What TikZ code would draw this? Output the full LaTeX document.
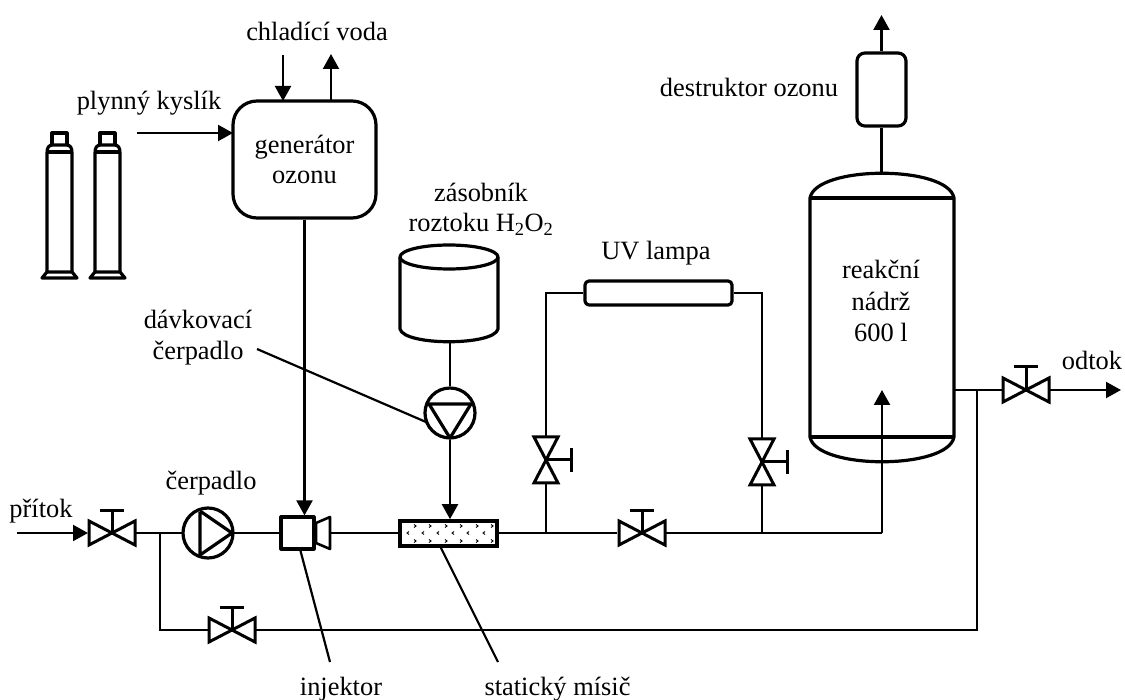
\documentclass[tikz,border=0pt]{standalone}
\usepackage{fontspec}
\setmainfont{Liberation Serif}
\usetikzlibrary{arrows.meta}
\tikzset{
  x=1pt,y=-1pt,
  pipe/.style={line width=2.2pt,black},
  thick outline/.style={line width=3.2pt,black,line join=round},
  arr/.style={pipe,-{Triangle[length=15pt,width=16pt]},shorten >=0pt},
  lbl/.style={font=\fontsize{26.4}{30}\selectfont,inner sep=0pt,align=center,text=black},
  cross/.style={line width=3pt,black,line join=miter,fill=white},
}
\newcommand{\hvalve}[2]{%
  \draw[cross] (#1-23,#2-12) -- (#1+23,#2+12) -- (#1+23,#2-12) -- (#1-23,#2+12) -- cycle;
  \draw[cross] (#1,#2) -- (#1,#2-23);
  \draw[cross] (#1-12,#2-23) -- (#1+12,#2-23);
}
\newcommand{\vvalve}[2]{%
  \draw[cross] (#1-12,#2-23) -- (#1+12,#2+23) -- (#1-12,#2+23) -- (#1+12,#2-23) -- cycle;
  \draw[cross] (#1,#2) -- (#1+25,#2);
  \draw[cross] (#1+25,#2-12) -- (#1+25,#2+12);
}
\newcommand{\bottle}[1]{%
  \draw[thick outline] (#1+5,145) -- (#1+5,133) -- (#1+20,133) -- (#1+20,145);
  \draw[thick outline] (#1,273) -- (#1,153) .. controls (#1,147) and (#1+2,145) .. (#1+6,145) -- (#1+19,145) .. controls (#1+23,145) and (#1+25,147) .. (#1+25,153) -- (#1+25,273);
  \draw[thick outline] (#1,152) -- (#1+25,152);
  \draw[thick outline] (#1,272) -- (#1+25,272) -- (#1+30,278) -- (#1-5,278) -- cycle;
}
\begin{document}
\begin{tikzpicture}
\useasboundingbox (0,0) rectangle (1125,700);
% bottles
\bottle{47}
\bottle{95}
% generator
\node[draw,thick outline,rounded corners=24pt,minimum width=143pt,minimum height=117pt,inner sep=0pt,lbl] (gen) at (304.5,159.5) {generátor\\ozonu};
\node[lbl] (lO) at (149,103) {plynný kyslík};
\node[lbl] (lC) at (317,31) {chladící voda};
\coordinate (oxin) at (137,133);
\coordinate (gw) at (233,133);
\draw[arr] (oxin) -- (gw);
\coordinate (cwi) at (283,55);
\coordinate (cwit) at (283,101);
\draw[arr] (cwi) -- (cwit);
\coordinate (cwo) at (331,101);
\coordinate (cwot) at (331,54);
\draw[arr] (cwo) -- (cwot);
% main line pieces
\coordinate (in) at (17,533);
\coordinate (v1l) at (88,533);
\draw[arr] (in) -- (v1l);
\draw[pipe] (136,533) -- (183,533);
\coordinate (j1) at (160,533);
\coordinate (j1b) at (160,630);
\coordinate (j2) at (977,630);
\coordinate (j3) at (977,390);
\draw[pipe,line join=miter] (j1) -- (j1b) -- (j2) -- (j3);
\draw[pipe] (233,533) -- (281,533);
\draw[pipe] (330,533) -- (400,533);
\draw[pipe] (497,533) -- (617,533);
\coordinate (tankin) at (882,390);
\draw[pipe] (666,533) -- (882,533);
\draw[arr] (882,533) -- (tankin);
\draw[pipe] (955,390) -- (1002,390);
\coordinate (out) at (1121,390);
\draw[arr] (1050,390) -- (out);
% generator to injector
\node[draw,thick outline,fill=white,minimum width=33pt,minimum height=32pt,inner sep=0pt] (inj) at (297.5,533) {};
\draw[line width=2.6pt,black,line join=round,fill=white] (316,523) -- (330,517) -- (330,549) -- (316,543) -- cycle;
\draw[arr] (gen.south) -- (gen.south |- inj.north);
% pump
\node[circle,draw,thick outline,fill=white,minimum size=50pt,inner sep=0pt] (p1) at (208,533) {};
\draw[thick outline] (200,512) -- (200,555) (200,511) -- (232,533) -- (200,555);
% valves
\hvalve{112}{533}
\hvalve{232}{630}
\hvalve{642}{533}
\hvalve{1026}{390}
\vvalve{546}{460}
\vvalve{762}{462}
% bypass with lamp
\node[draw,thick outline,rounded corners=4pt,minimum width=147pt,minimum height=24pt,inner sep=0pt] (lamp) at (658.5,293) {};
\coordinate (u1) at (546,533);
\coordinate (u2) at (762,533);
\draw[pipe,line join=miter] (546,437) |- (lamp.west);
\draw[pipe] (546,483) -- (u1);
\draw[pipe,line join=miter] (lamp.east) -| (762,439);
\draw[pipe] (762,485) -- (u2);
% mixer
\node[draw,line width=3.6pt,black,fill=white,minimum width=97pt,minimum height=25pt,inner sep=0pt] (mix) at (448.5,533.5) {};
\foreach \x in {415,430,446,461,477,492}{
  \draw[line width=.9pt] (\x-1,524.5) -- ++(2,1.5) -- ++(-2,1.5);
  \draw[line width=.9pt] (\x-1,539.5) -- ++(2,1.5) -- ++(-2,1.5);
}
\foreach \x in {408,423,438,453,468,484}{
  \draw[line width=.9pt] (\x+1,531.5) -- ++(-2,1.5) -- ++(2,1.5);
}
% H2O2 tank
\draw[thick outline,fill=white] (400,257) -- (400,329) .. controls (404,346) and (494,346) .. (498,329) -- (498,257);
\draw[thick outline] (449,257) ellipse [x radius=49,y radius=12];
\node[circle,draw,thick outline,fill=white,minimum size=50pt,inner sep=0pt] (p2) at (450,413) {};
\draw[thick outline] (429,404) -- (471,404) -- (450,438) -- cycle;
\coordinate (htb) at (450,341);
\draw[pipe] (htb) -- (p2.north);
\draw[arr] (p2.south) -- (p2.south |- mix.north);
% reactor
\draw[thick outline] (810,198) -- (810,437) .. controls (816,470) and (948,470) .. (954,437) -- (954,198) .. controls (948,165) and (816,165) .. (810,198) -- cycle;
\draw[thick outline] (810,198) -- (954,198) (810,437) -- (954,437);
\node[lbl,align=center] (lR) at (881,301) {reakční\\[1.5pt]nádrž\\[1.5pt]600 l};
% destructor
\node[draw,thick outline,rounded corners=8pt,minimum width=49pt,minimum height=73pt,inner sep=0pt] (des) at (881.5,89.5) {};
\coordinate (tanktop) at (881.5,173);
\coordinate (vent) at (881.5,15);
\draw[pipe] (des.south) -- (tanktop);
\draw[arr] (des.north) -- (vent);
% labels
\node[lbl] (lD) at (749,87) {destruktor ozonu};
\node[lbl] (lU) at (656,253) {UV lampa};
\node[lbl] (lZ) at (481,209) {zásobník\\roztoku H\textsubscript{2}O\textsubscript{2}};
\node[lbl] (lDa) at (198,338) {dávkovací\\[1pt]čerpadlo};
\node[lbl] (lCe) at (211,483) {čerpadlo};
\node[lbl] (lP) at (41,511) {přítok};
\node[lbl] (lI) at (341,689) {injektor};
\node[lbl] (lS) at (557.5,689) {statický mísič};
\node[lbl] (lOd) at (1092,360) {odtok};
% leaders
\coordinate (ld1) at (257,349);
\coordinate (ld2) at (426,422);
\draw[pipe] (ld1) -- (ld2);
\coordinate (li1) at (300,549);
\coordinate (li2) at (330,662);
\draw[pipe] (li1) -- (li2);
\coordinate (lm1) at (440,546);
\coordinate (lm2) at (498,662);
\draw[pipe] (lm1) -- (lm2);
\end{tikzpicture}
\end{document}
